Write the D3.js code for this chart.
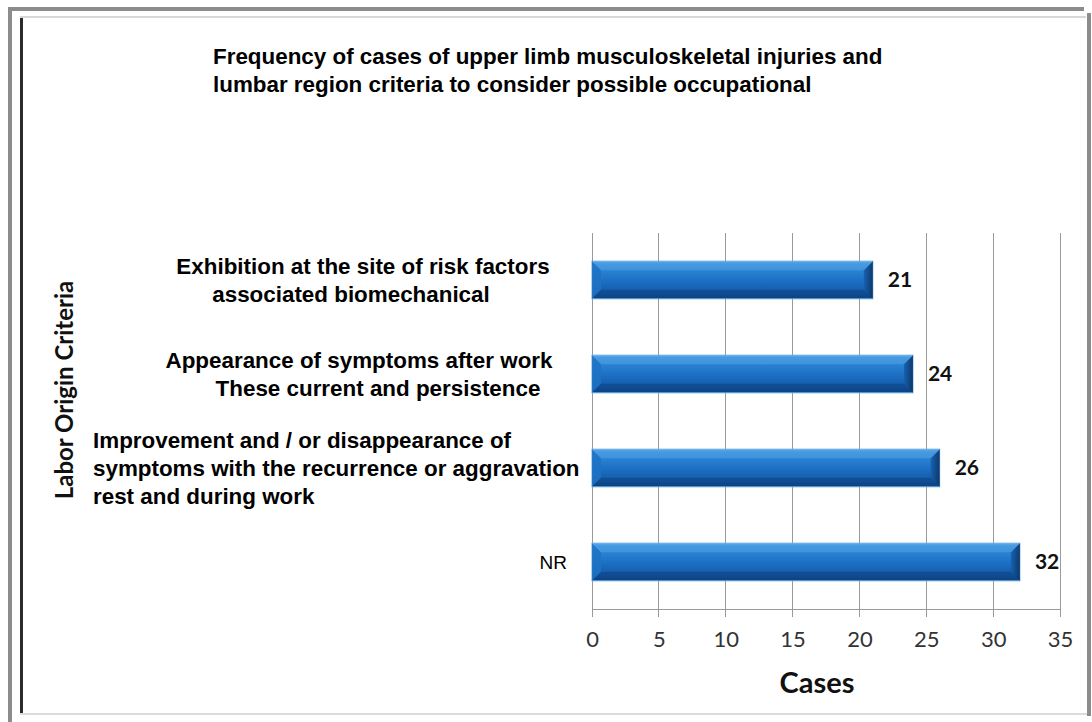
<!DOCTYPE html>
<html><head><meta charset="utf-8">
<script src="https://cdn.jsdelivr.net/npm/d3@7"></script>
<style>html,body{margin:0;padding:0;background:#fff;}svg{display:block;}</style>
</head><body>
<svg id="c" width="1092" height="722"></svg>
<script>
const title = ["Frequency of cases of upper limb musculoskeletal injuries and",
               "lumbar region criteria to consider possible occupational"];
const categories = ["Exhibition at the site of risk factors associated biomechanical",
  "Appearance of symptoms after work These current and persistence",
  "Improvement and / or disappearance of symptoms with the recurrence or aggravation rest and during work",
  "NR"];
const categoryLines = [
  ["Exhibition at the site of risk factors", "associated biomechanical"],
  ["Appearance of symptoms after work", "These current and persistence"],
  ["Improvement and / or disappearance of", "symptoms with the recurrence or aggravation", "rest and during work"],
  ["NR"]];
const values = [21, 24, 26, 32];
const xTicks = [0, 5, 10, 15, 20, 25, 30, 35];
const xTitle = "Cases";
const yTitle = "Labor Origin Criteria";

const svg = d3.select("#c");
const W = 1092, H = 722;
svg.append("rect").attr("width", W).attr("height", H).attr("fill", "#fff");

// frame
svg.append("rect").attr("x", 8).attr("y", 7).attr("width", 1076).attr("height", 4).attr("fill", "#8c8c8c");
svg.append("rect").attr("x", 8).attr("y", 7).attr("width", 4).attr("height", 715).attr("fill", "#8c8c8c");
svg.append("rect").attr("x", 1087).attr("y", 13).attr("width", 4).attr("height", 703).attr("fill", "#8c8c8c");
svg.append("rect").attr("x", 20).attr("y", 16).attr("width", 1066).attr("height", 2).attr("fill", "#d8d8d8");
svg.append("rect").attr("x", 20).attr("y", 18).attr("width", 3).attr("height", 696).attr("fill", "#2a2a2a");
svg.append("rect").attr("x", 20).attr("y", 713).attr("width", 1067).attr("height", 2).attr("fill", "#dcdcdc");

// title
svg.append("g").selectAll("text").data(title).join("text")
  .attr("x", 213).attr("y", (d, i) => 64 + i * 28)
  .attr("font-family", "Liberation Sans, Arial, sans-serif").attr("font-weight", "bold")
  .attr("font-size", 22.4).attr("fill", "#000").text(d => d);

const x = d3.scaleLinear().domain([0, 35]).range([592, 1060]);
const y = d3.scaleBand().domain(categories).range([233, 609]).paddingInner(0.6).paddingOuter(0.3);

// gridlines
svg.append("g").selectAll("line").data(xTicks).join("line")
  .attr("x1", d => x(d)).attr("x2", d => x(d)).attr("y1", 233).attr("y2", 617)
  .attr("stroke", "#9a9a9a").attr("stroke-width", 1).attr("shape-rendering", "crispEdges");
svg.append("line").attr("x1", x(0)).attr("x2", x(35)).attr("y1", 609).attr("y2", 609)
  .attr("stroke", "#9a9a9a").attr("shape-rendering", "crispEdges");

// axis
const ax = svg.append("g").attr("transform", "translate(0,609)")
  .call(d3.axisBottom(x).tickValues(xTicks).tickSize(0).tickPadding(22));
ax.select(".domain").remove();
ax.selectAll("text").attr("font-family", "Lato, 'Open Sans', sans-serif").attr("font-size", 22).attr("fill", "#333");

// gradients
const defs = svg.append("defs");
const g1 = defs.append("linearGradient").attr("id", "barG").attr("x1", 0).attr("x2", 0).attr("y1", 0).attr("y2", 1);
[[0, "#6cb3ec"], [0.08, "#3b92dc"], [0.25, "#2a82d2"], [0.55, "#1b6ec3"], [0.85, "#1459a6"], [1, "#0c3f7c"]]
  .forEach(s => g1.append("stop").attr("offset", s[0]).attr("stop-color", s[1]));
const g2 = defs.append("linearGradient").attr("id", "endG").attr("x1", 0).attr("x2", 1).attr("y1", 0).attr("y2", 0);
[[0, "#175fae"], [1, "#0a3363"]].forEach(s => g2.append("stop").attr("offset", s[0]).attr("stop-color", s[1]));

const bars = svg.append("g").selectAll("g").data(categories).join("g");
bars.append("rect")
  .attr("x", x(0)).attr("y", d => y(d)).attr("width", (d, i) => x(values[i]) - x(0)).attr("height", y.bandwidth())
  .attr("fill", "url(#barG)").attr("stroke", "#5fa9e6").attr("stroke-width", 1);
const bv = 9;
bars.append("path").attr("d", (d, i) => {
  const x1 = x(values[i]), y0 = y(d), h = y.bandwidth();
  return `M${x1},${y0} L${x1},${y0 + h} L${x1 - bv},${y0 + h - bv} L${x1 - bv},${y0 + bv} Z`;
}).attr("fill", "url(#endG)").attr("opacity", 0.9);
bars.append("path").attr("d", d => {
  const x0 = x(0), y0 = y(d), h = y.bandwidth();
  return `M${x0},${y0} L${x0 + bv},${y0 + bv} L${x0 + bv},${y0 + h - bv} L${x0},${y0 + h} Z`;
}).attr("fill", "#1e72c4").attr("opacity", 0.85);
bars.append("path").attr("d", (d, i) => {
  const x0 = x(0), x1 = x(values[i]), y0 = y(d);
  return `M${x0 + 1},${y0 + 1} L${x1 - 1},${y0 + 1} L${x1 - bv},${y0 + bv} L${x0 + bv},${y0 + bv} Z`;
}).attr("fill", "#4c9fe3").attr("opacity", 0.6);
bars.append("path").attr("d", (d, i) => {
  const x0 = x(0), x1 = x(values[i]), y0 = y(d), h = y.bandwidth();
  return `M${x0 + bv},${y0 + h - bv} L${x1 - bv},${y0 + h - bv} L${x1 - 1},${y0 + h - 1} L${x0 + 1},${y0 + h - 1} Z`;
}).attr("fill", "#0d4585").attr("opacity", 0.6);

// value labels
bars.append("text")
  .attr("x", (d, i) => x(values[i]) + 15).attr("y", d => y(d) + y.bandwidth() / 2)
  .attr("dy", "0.35em").attr("font-family", "Lato, 'Open Sans', sans-serif").attr("font-weight", "bold")
  .attr("font-size", 21).attr("fill", "#111").text((d, i) => values[i]);

// category labels (per-line horizontal placement, as in the reference)
const lineLayout = [
  [{a: "middle", x: 363}, {a: "middle", x: 351}],
  [{a: "middle", x: 359}, {a: "middle", x: 378}],
  [{a: "start", x: 93}, {a: "start", x: 93}, {a: "start", x: 93}],
  [{a: "end", x: 567}]];
const catG = svg.append("g").selectAll("text").data(categories).join("text")
  .attr("font-family", "Liberation Sans, Arial, sans-serif")
  .attr("font-size", (d, i) => i === 3 ? 19 : 22.4).attr("fill", "#000")
  .attr("font-weight", (d, i) => i === 3 ? "normal" : "bold");
catG.each(function (d, i) {
  const lines = categoryLines[i];
  const cy = y(d) + y.bandwidth() / 2;
  const lh = 28;
  d3.select(this).selectAll("tspan").data(lines).join("tspan")
    .attr("x", (l, j) => lineLayout[i][j].x)
    .attr("text-anchor", (l, j) => lineLayout[i][j].a)
    .attr("y", (l, j) => cy + (j - (lines.length - 1) / 2) * lh)
    .attr("dy", "0.35em").text(l => l);
});

// axis titles
svg.append("text").attr("x", 817).attr("y", 693).attr("text-anchor", "middle")
  .attr("font-family", "Lato, 'Open Sans', sans-serif").attr("font-weight", "bold").attr("font-size", 29)
  .attr("fill", "#111").text(xTitle);
svg.append("text").attr("transform", "translate(73,390) rotate(-90)").attr("text-anchor", "middle")
  .attr("font-family", "Lato, 'Open Sans', sans-serif").attr("font-weight", "bold").attr("font-size", 24)
  .attr("fill", "#111").text(yTitle);
</script>
</body></html>
